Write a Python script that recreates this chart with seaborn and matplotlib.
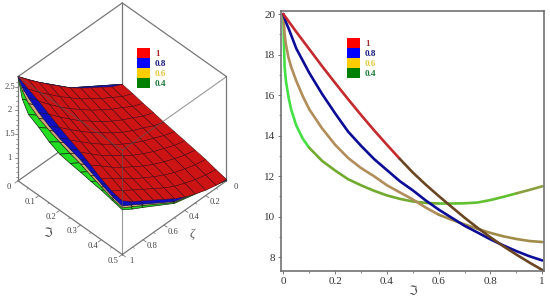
import numpy as np
import pandas as pd
import seaborn as sns
from matplotlib import pyplot as plt
from matplotlib.patches import Patch
from mpl_toolkits.mplot3d import proj3d

# --- surfaces
zeta_red = [0, 0.1, 0.2, 0.3, 0.4, 0.5, 0.6, 0.7, 0.8, 0.9, 1]
xi_red = [0, 0.05, 0.1, 0.15, 0.2, 0.25, 0.3, 0.35, 0.4, 0.45, 0.5]
z_red = [
    [1.00, 0.96, 0.91, 0.87, 0.82, 0.78, 0.74, 0.70, 0.66, 0.60, 0.55],
    [1.10, 1.05, 1.00, 0.95, 0.90, 0.85, 0.80, 0.75, 0.70, 0.64, 0.58],
    [1.25, 1.19, 1.13, 1.07, 1.01, 0.95, 0.89, 0.83, 0.77, 0.70, 0.63],
    [1.39, 1.32, 1.25, 1.18, 1.11, 1.04, 0.98, 0.92, 0.85, 0.78, 0.71],
    [1.54, 1.47, 1.39, 1.31, 1.23, 1.16, 1.09, 1.02, 0.95, 0.87, 0.80],
    [1.70, 1.62, 1.54, 1.45, 1.37, 1.29, 1.21, 1.14, 1.07, 0.99, 0.92],
    [1.89, 1.80, 1.71, 1.62, 1.53, 1.44, 1.36, 1.28, 1.20, 1.13, 1.06],
    [2.08, 1.98, 1.88, 1.78, 1.69, 1.60, 1.51, 1.42, 1.34, 1.27, 1.20],
    [2.28, 2.18, 2.07, 1.97, 1.87, 1.77, 1.67, 1.58, 1.49, 1.41, 1.34],
    [2.49, 2.38, 2.28, 2.17, 2.06, 1.96, 1.86, 1.76, 1.66, 1.56, 1.48],
    [2.71, 2.60, 2.50, 2.38, 2.26, 2.15, 2.05, 1.93, 1.80, 1.70, 1.65],
]

zeta_low = [0, 0.5, 0.8, 0.9, 1]
xi_low = [0, 0.02, 0.05, 0.1, 0.15, 0.2, 0.25, 0.3, 0.35, 0.4, 0.45, 0.5]
z_blue = [
    [1.00, 0.90, 0.88, 0.83, 0.79, 0.75, 0.72, 0.68, 0.65, 0.62, 0.58, 0.54],
    [1.70, 1.58, 1.50, 1.40, 1.32, 1.25, 1.18, 1.12, 1.06, 1.00, 0.93, 0.86],
    [2.28, 2.14, 2.02, 1.89, 1.78, 1.70, 1.63, 1.57, 1.48, 1.40, 1.33, 1.27],
    [2.49, 2.34, 2.21, 2.07, 1.95, 1.86, 1.79, 1.72, 1.63, 1.54, 1.46, 1.41],
    [2.71, 2.55, 2.42, 2.26, 2.13, 2.03, 1.96, 1.89, 1.79, 1.69, 1.60, 1.54],
]
z_tan = [
    [1.00, 0.86, 0.82, 0.79, 0.76, 0.73, 0.70, 0.67, 0.64, 0.61, 0.57, 0.53],
    [1.70, 1.52, 1.40, 1.32, 1.25, 1.19, 1.14, 1.08, 1.03, 0.98, 0.91, 0.84],
    [2.28, 2.07, 1.91, 1.78, 1.69, 1.62, 1.56, 1.49, 1.42, 1.35, 1.29, 1.24],
    [2.49, 2.27, 2.10, 1.96, 1.86, 1.78, 1.71, 1.64, 1.56, 1.49, 1.42, 1.37],
    [2.71, 2.48, 2.30, 2.14, 2.04, 1.95, 1.87, 1.80, 1.71, 1.63, 1.55, 1.50],
]
z_green = [
    [1.00, 0.80, 0.76, 0.73, 0.70, 0.68, 0.66, 0.64, 0.62, 0.60, 0.56, 0.53],
    [1.70, 1.40, 1.27, 1.18, 1.12, 1.06, 1.02, 0.99, 0.95, 0.92, 0.87, 0.82],
    [2.28, 1.92, 1.73, 1.62, 1.50, 1.42, 1.38, 1.35, 1.32, 1.29, 1.24, 1.20],
    [2.49, 2.10, 1.90, 1.78, 1.65, 1.56, 1.52, 1.49, 1.45, 1.42, 1.38, 1.32],
    [2.71, 2.30, 2.07, 1.95, 1.80, 1.70, 1.66, 1.63, 1.59, 1.56, 1.51, 1.46],
]

# --- curves
t_even = [0, 0.05, 0.1, 0.15, 0.2, 0.25, 0.3, 0.35, 0.4, 0.45, 0.5, 0.55, 0.6,
          0.65, 0.7, 0.75, 0.8, 0.85, 0.9, 0.95, 1]
y_red = [20, 19.12, 18.27, 17.42, 16.6, 15.8, 15.02, 14.27, 13.55, 12.85, 12.18, 11.58,
         11.02, 10.48, 9.95, 9.45, 8.98, 8.54, 8.13, 7.74, 7.37]
t_blue = [0, 0.01, 0.02] + t_even[1:]
y_blue = [20, 19.6, 19.3, 18.3, 17.1, 16.05, 15.1, 14.2, 13.5, 12.85, 12.3, 11.75,
          11.3, 10.8, 10.35, 9.95, 9.55, 9.22, 8.88, 8.58, 8.3, 8.05, 7.84]
t_tan = [0, 0.005, 0.01, 0.02, 0.03, 0.05, 0.075] + t_even[2:]
y_tan = [20, 19, 18.5, 17.85, 17.4, 16.7, 15.95, 15.3, 14.35, 13.55, 12.9, 12.4, 12.0,
         11.55, 11.2, 10.85, 10.45, 10.1, 9.85, 9.62, 9.4, 9.2, 9.03, 8.9, 8.8, 8.75]
t_green = [0, 0.002, 0.005, 0.01, 0.02, 0.03, 0.05, 0.075] + t_even[2:]
y_green = [20, 18.6, 17.4, 16.7, 15.9, 15.3, 14.5, 13.85, 13.4, 12.75, 12.28, 11.85,
           11.55, 11.28, 11.05, 10.88, 10.75, 10.68, 10.65, 10.65, 10.66, 10.7,
           10.82, 10.98, 11.15, 11.32, 11.5]

legend_labels = ["1", "0.8", "0.6", "0.4"]
swatch_colors = ["#ff0000", "#0000ff", "#ffcc00", "#008000"]
label_colors = ["#a52a2a", "#1a1a80", "#e8c840", "#1a7a3a"]

xi_ticks = [0, 0.1, 0.2, 0.3, 0.4, 0.5]
xi_minor = [0.05, 0.15, 0.25, 0.35, 0.45]
zeta_ticks = [0.2, 0.4, 0.6, 0.8, 1]
zeta_minor = [0.1, 0.3, 0.5, 0.7, 0.9]
z_ticks = [1, 1.5, 2, 2.5]
z_minor = [0.6, 0.7, 0.8, 0.9, 1.1, 1.2, 1.3, 1.4, 1.6, 1.7, 1.8, 1.9, 2.1, 2.2, 2.3, 2.4, 2.6]
x_ticks = [0, 0.2, 0.4, 0.6, 0.8, 1]
y_ticks = [8, 10, 12, 14, 16, 18, 20]

GRAY = "#777777"
TICK_TEXT = "#444444"
Z_MIN, Z_MAX = 0.52, 2.71


def add_legend(ax, loc):
    handles = [Patch(facecolor=c, edgecolor="none") for c in swatch_colors]
    ax.legend(
        handles, legend_labels, loc="upper left", bbox_to_anchor=loc,
        bbox_transform=ax.figure.transFigure, frameon=False, labelspacing=0,
        handlelength=1.4, handleheight=1.3, handletextpad=0.55, borderpad=0,
        borderaxespad=0, labelcolor=label_colors,
        prop={"weight": "bold", "size": 6.6},
    )


def draw_box(ax):
    z0, z1 = Z_MIN, Z_MAX
    for xs, ys, z in (
        ([0, 1], [0, 0], z0), ([0, 0], [0, 0.5], z0),
        ([0, 1], [0, 0], z1), ([0, 0], [0, 0.5], z1),
        ([1, 1], [0, 0.5], z0), ([0, 1], [0.5, 0.5], z0),
    ):
        ax.plot(xs, ys, [z, z], color=GRAY, lw=0.9, zorder=1)
    for x, y in ((0, 0), (1, 0), (0, 0.5)):
        ax.plot([x, x], [y, y], [z0, z1], color=GRAY, lw=0.9, zorder=1)
    # edges in front of the surfaces
    for xs, ys, zs in (
        ([1, 1], [0.5, 0.5], [z0, z1]),
        ([1, 1], [0, 0.5], [z1, z1]),
        ([0, 1], [0.5, 0.5], [z1, z1]),
    ):
        ax.plot(xs, ys, zs, color="#555555", alpha=0.6, lw=0.8, zorder=10)


def label_at(ax, x, y, z, text, **kwargs):
    # place a plain 2D text at the projected position of a 3D point
    px, py, _ = proj3d.proj_transform(x, y, z, ax.get_proj())
    ax.annotate(text, (px, py), ha="center", va="center", zorder=11, **kwargs)


def draw_ticks(ax):
    for xi in xi_ticks:
        ax.plot([1, 1.03], [xi, xi], [Z_MIN, Z_MIN], color=GRAY, lw=0.6, zorder=2)
        label_at(ax, 1.085, xi, Z_MIN, str(xi), fontsize=6.2, color=TICK_TEXT)
    for xi in xi_minor:
        ax.plot([1, 1.015], [xi, xi], [Z_MIN, Z_MIN], color=GRAY, lw=0.5, zorder=2)
    label_at(ax, 1.22, 0.25, Z_MIN, "ℑ", fontsize=9, color="#555555")
    label_at(ax, 0.53, 0.6, Z_MIN, "ζ", fontsize=9, style="italic", color="#555555")
    label_at(ax, 0, 0.545, Z_MIN, "0", fontsize=6.2, color=TICK_TEXT)
    for zeta in zeta_ticks:
        ax.plot([zeta, zeta], [0.5, 0.515], [Z_MIN, Z_MIN], color=GRAY, lw=0.6, zorder=2)
        label_at(ax, zeta, 0.545, Z_MIN, str(zeta), fontsize=6.2, color=TICK_TEXT)
    for zeta in zeta_minor:
        ax.plot([zeta, zeta], [0.5, 0.508], [Z_MIN, Z_MIN], color=GRAY, lw=0.5, zorder=2)
    for value in z_ticks:
        ax.plot([1, 1.015], [0, -0.0075], [value, value], color=GRAY, lw=0.6, zorder=2)
        label_at(ax, 1.04, -0.02, value, str(value), fontsize=6.2, color=TICK_TEXT)
    for value in z_minor:
        ax.plot([1, 1.008], [0, -0.004], [value, value], color=GRAY, lw=0.5, zorder=2)


def plot_surfaces(ax):
    low = (
        (z_green, "#22dd22", "#103010", 3),
        (z_tan, "#d4a878", "#2a2a10", 4),
        (z_blue, "#1010c0", "#101060", 5),
    )
    xx, yy = np.meshgrid(zeta_low, xi_low, indexing="ij")
    for z_values, face, edge, order in low:
        ax.plot_surface(xx, yy, np.array(z_values), color=face, edgecolor=edge,
                        linewidth=0.5, shade=False, rstride=1, cstride=1, zorder=order)
    xx, yy = np.meshgrid(zeta_red, xi_red, indexing="ij")
    ax.plot_surface(xx, yy, np.array(z_red), color="#cc1414", edgecolor="#501010",
                    linewidth=0.35, shade=False, rstride=1, cstride=1, zorder=6)


def plot_curves(ax):
    curves = (
        (t_green, y_green, ((0, 0.1, "#44e044"), (0.1, 0.6, "#72aa30"), (0.6, 0.9, "#62c030"), (0.9, 1, "#8aa040"))),
        (t_tan, y_tan, ((0, 0.6, "#b08d5a"), (0.6, 1, "#a08c48"))),
        (t_blue, y_blue, ((0, 1, "#0c0c96"),)),
        (t_even, y_red, ((0, 0.45, "#c42a2e"), (0.45, 1, "#6a4522"))),
    )
    for t_values, y_values, pieces in curves:
        df = pd.DataFrame({"t": t_values, "y": y_values})
        for start, stop, color in pieces:
            part = df[(df.t >= start) & (df.t <= stop)]
            sns.lineplot(data=part, x="t", y="y", color=color, lw=1.9, ax=ax,
                         estimator=None, sort=False, legend=False)


if __name__ == "__main__":
    sns.set_style("white")
    plt.rcParams["font.family"] = ["Liberation Serif", "DejaVu Sans"]

    figure = plt.figure(figsize=(5.5, 2.99), dpi=100)

    ax3d = figure.add_axes([-21.5 / 550, 26.5 / 299, 280 / 550, 280 / 299], projection="3d",
                           computed_zorder=False)
    ax3d.patch.set_alpha(0)
    ax3d.set_proj_type("ortho")
    ax3d.view_init(elev=45, azim=45)
    ax3d.set_box_aspect((1, 1, 1), zoom=0.885)
    ax3d.set_xlim(0, 1)
    ax3d.set_ylim(0, 0.5)
    ax3d.set_zlim(Z_MIN, Z_MAX)
    ax3d.set_axis_off()
    draw_box(ax3d)
    plot_surfaces(ax3d)
    draw_ticks(ax3d)
    add_legend(ax3d, (137 / 550, 1 - 48 / 299))

    ax = figure.add_axes([281 / 550, 1 - 271 / 299, 263 / 550, 260 / 299])
    plot_curves(ax)
    ax.set_xlim(-0.009, 1.0066)
    ax.set_ylim(7.32, 20.15)
    ax.set_xticks(x_ticks, labels=[str(v) for v in x_ticks])
    ax.set_yticks(y_ticks, labels=[str(v) for v in y_ticks])
    ax.set_xticks(np.array(x_ticks[:-1]) + 0.1, minor=True)
    ax.set_yticks(np.array(y_ticks[:-1]) + 1, minor=True)
    ax.tick_params(axis="both", which="major", length=2.5, width=0.7, color=GRAY,
                   labelsize=8, labelcolor="#333333", pad=1.5, bottom=True, left=True)
    ax.tick_params(axis="both", which="minor", length=1.5, width=0.6, color=GRAY,
                   bottom=True, left=True)
    ax.set_xlabel("ℑ", fontsize=9, color="#555555", labelpad=0)
    ax.set_ylabel("")
    for spine in ax.spines.values():
        spine.set_color("#666666")
        spine.set_linewidth(1.1)
    add_legend(ax, (347 / 550, 1 - 38 / 299))

    figure.savefig("out.png", dpi=100)
